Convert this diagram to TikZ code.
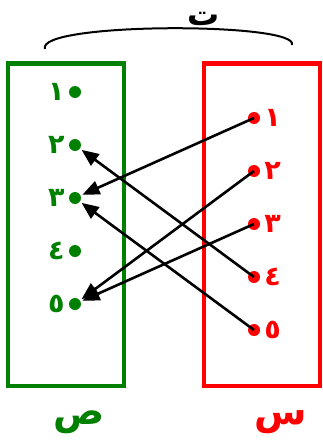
\documentclass[tikz,border=0pt]{standalone}
\usepackage{fontspec}
\usetikzlibrary{arrows.meta,positioning}
\TeXXeTstate=1
\newfontfamily\arabicfont[Script=Arabic]{DejaVu Sans}
\definecolor{setgreen}{RGB}{0,128,0}
\definecolor{setred}{RGB}{255,0,0}
\tikzset{
  setbox/.style={draw, line width=4pt, minimum width=116pt, minimum height=322pt, inner sep=0pt},
  greendot/.style={circle, fill=setgreen, minimum size=12pt, inner sep=0pt},
  reddot/.style={circle, fill=setred, minimum size=12pt, inner sep=0pt},
  digit/.style={font=\arabicfont\bfseries\fontsize{27}{27}\selectfont, inner sep=0pt},
  setname/.style={font=\arabicfont\bfseries\fontsize{38}{38}\selectfont, inner sep=0pt},
  maparrow/.style={line width=2.6pt, -{Triangle[length=17pt,width=14pt]}, shorten >=2pt}
}
\begin{document}
\begin{tikzpicture}[x=1pt, y=-1pt]
  \useasboundingbox (0,0) rectangle (323,444);

  % the two sets
  \node[setbox, draw=setgreen] (Y) at (66,224.5) {};
  \node[setbox, draw=setred] (X) at (261.5,224.5) {};

  % elements of the codomain (left)
  \foreach \i/\y/\d in {1/92/١, 2/145/٢, 3/198/٣, 4/251/٤, 5/304/٥} {
    \node[greendot] (l\i) at (75,\y) {};
    \node[digit, text=setgreen, left=4pt of l\i] (ld\i) {\d};
  }

  % elements of the domain (right)
  \foreach \i/\y/\d in {1/118/١, 2/171/٢, 3/224/٣, 4/277/٤, 5/330/٥} {
    \node[reddot] (r\i) at (254,\y) {};
    \node[digit, text=setred, right=4pt of r\i] (rd\i) {\d};
  }

  % the mapping
  \draw[maparrow] (r1.center) -- (l3);
  \draw[maparrow] (r2.center) -- (l5);
  \draw[maparrow] (r3.center) -- (l5);
  \draw[maparrow] (r4.center) -- (l2);
  \draw[maparrow] (r5.center) -- (l3);

  % arc over both sets and the function name
  \coordinate (arcL) at (45,49);
  \coordinate (arcR) at (292,45);
  \draw[line width=2pt] (arcL) .. controls (35,22) and (300,22) .. (arcR);
  \node[font=\arabicfont\bfseries\fontsize{32}{32}\selectfont, inner sep=0pt, anchor=base] (f) at (204,26) {\beginR ت\endR};

  % set names
  \node[setname, text=setgreen] (Yname) at (79,422) {\beginR ص\endR};
  \node[setname, text=setred] (Xname) at (281,422) {\beginR س\endR};
\end{tikzpicture}
\end{document}
